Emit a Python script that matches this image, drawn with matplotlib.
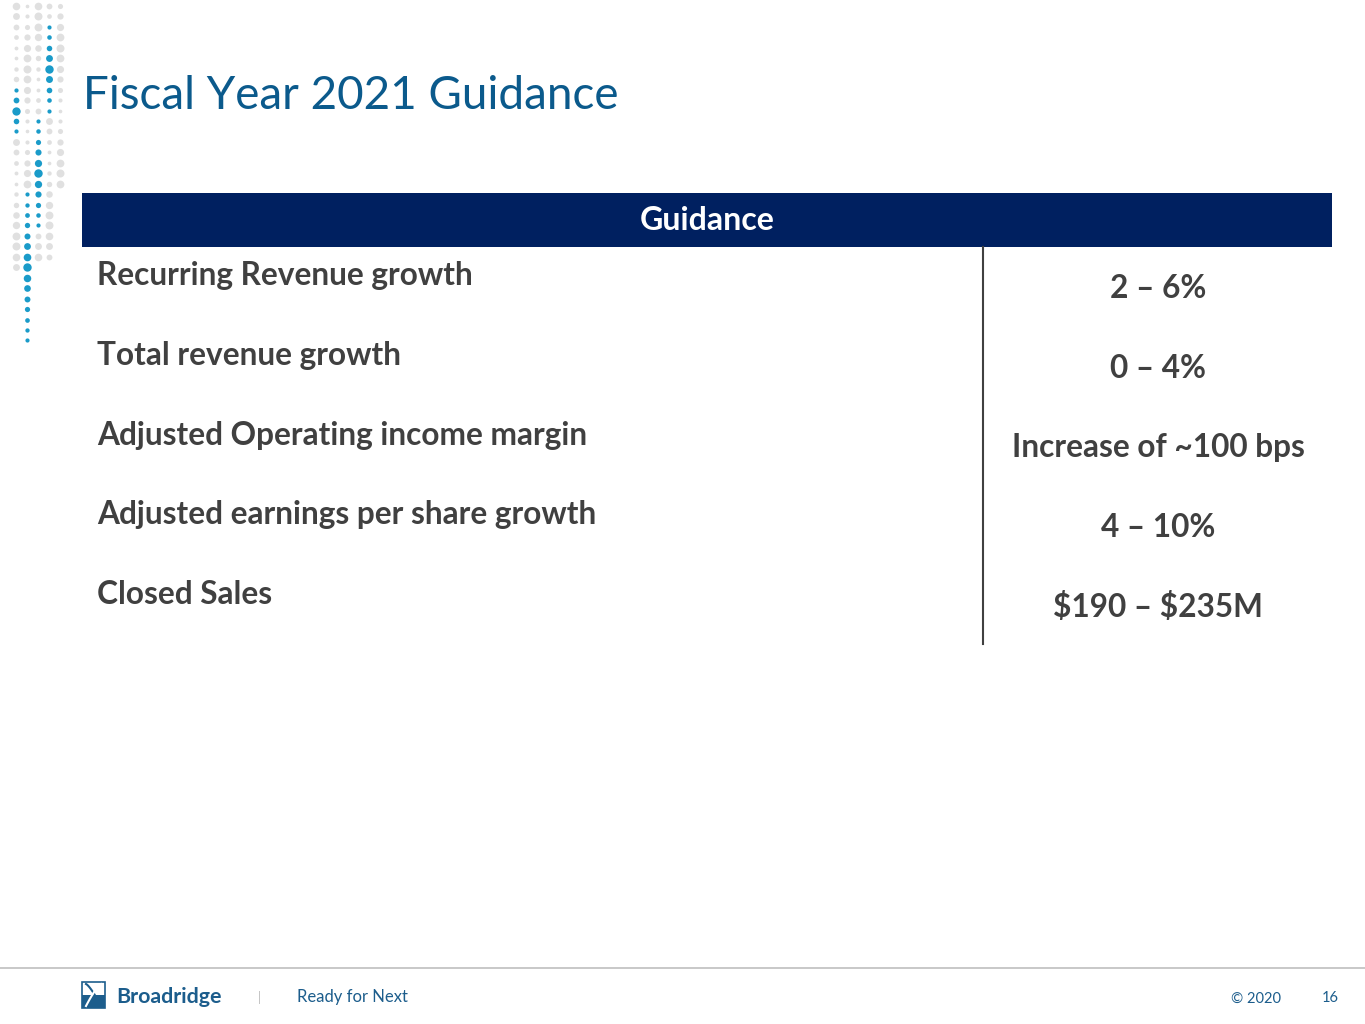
import matplotlib.pyplot as plt
import numpy as np

# table content
labels = [
    'Recurring Revenue growth',
    'Total revenue growth',
    'Adjusted Operating income margin',
    'Adjusted earnings per share growth',
    'Closed Sales',
]
values = ['2 – 6%', '0 – 4%', 'Increase of ~100 bps', '4 – 10%', '$190 – $235M']
title = 'Fiscal Year 2021 Guidance'
header = 'Guidance'

W, H = 1365, 1024
FONT = 'Lato'
TXT = '#404040'
NAVY = '#002060'
BLUE = '#0b5a8c'

fig = plt.figure(figsize=(W / 100, H / 100), dpi=100)
ax = fig.add_axes([0, 0, 1, 1])
ax.set_xlim(0, W)
ax.set_ylim(H, 0)
ax.axis('off')


def fit_text(x, y, s, width, **kw):
    """Draw text and rescale its font so it spans `width` pixels."""
    t = ax.text(x, y, s, **kw)
    fig.canvas.draw()
    bb = t.get_window_extent()
    t.set_fontsize(t.get_fontsize() * width / bb.width)
    return t


# dotted decoration, top left
cols = [16, 27, 38, 49, 60]
blue_runs = {49: (28, 110), 16: (89, 131), 38: (120, 227), 27: (193, 340)}
gray_end = {16: 270, 27: 185, 38: 265, 49: 265, 60: 190}
for cx in cols:
    for cy in np.arange(6, 342, 10.45):
        run = blue_runs.get(cx)
        if run and run[0] - 2 <= cy <= run[1] + 2:
            mid = (run[0] + run[1]) / 2
            frac = 1 - abs(cy - mid) / ((run[1] - run[0]) / 2 + 1)
            ax.scatter(cx, cy, s=9 + 28 * frac ** 2, color='#1a9bc9', lw=0)
        elif cy < gray_end[cx]:
            ax.scatter(cx, cy, s=7 + 26 * np.sin(cy / 40.0 + cx / 9.0) ** 2,
                       color='#e0e0e0', lw=0)

# title
fit_text(83, 96, title, 535, fontsize=40, color=BLUE, family=FONT,
         va='center', ha='left')

# header bar
ax.add_patch(plt.Rectangle((82, 193), 1250, 54, color=NAVY, lw=0))
fit_text(707, 221, header, 135, fontsize=21, color='white', family=FONT,
         weight='bold', ha='center', va='center')

# divider
ax.plot([983, 983], [247, 644], color='#404040', lw=1.5)

# rows
row_y = 276 + 79.5 * np.arange(len(labels))
lab0 = fit_text(97, row_y[0], labels[0], 377, fontsize=21, color=TXT,
                family=FONT, weight='bold', ha='left', va='center')
fs = lab0.get_fontsize()
for y, lab in zip(row_y[1:], labels[1:]):
    ax.text(97, y, lab, fontsize=fs, color=TXT, family=FONT, weight='bold',
            ha='left', va='center')
for y, val in zip(row_y, values):
    ax.text(1158, y + 13, val, fontsize=fs, color=TXT, family=FONT,
            weight='bold', ha='center', va='center', parse_math=False)

# footer
ax.plot([0, W], [968, 968], color='#bfbfbf', lw=1.2)
ax.add_patch(plt.Rectangle((82, 982), 23, 26, facecolor='white',
                           edgecolor='#1c5d8c', lw=1.2))
ax.add_patch(plt.Rectangle((82, 995), 23, 13, color='#1c5d8c', lw=0))
tt = np.linspace(0, 1, 30)
ax.plot(86 + 15 * tt, 984 + 22 * tt ** 1.3, color='#1c5d8c', lw=1.5)
ax.plot(101 - 15 * tt, 984 + 22 * tt ** 1.3, color='white', lw=1.5)
fit_text(116, 997, 'Broadridge', 106, fontsize=15, color='#1c5d8c',
         family=FONT, weight='bold', ha='left', va='center')
ax.text(259, 998, '|', fontsize=9, color='#bfbfbf', family=FONT,
        ha='center', va='center')
fit_text(297, 997, 'Ready for Next', 111, fontsize=13, color='#1c5d8c',
         family=FONT, ha='left', va='center')
ax.text(1256, 999, '© 2020', fontsize=10.5, color='#1c5d8c', family=FONT,
        ha='center', va='center')
ax.text(1330, 998, '16', fontsize=10.5, color='#1c5d8c', family=FONT,
        ha='center', va='center')

fig.savefig('out.png', dpi=100)
